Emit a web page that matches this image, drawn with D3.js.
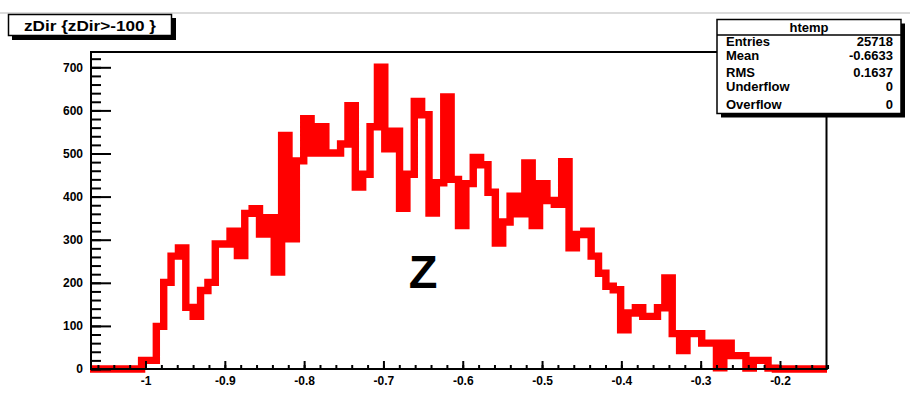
<!DOCTYPE html>
<html><head><meta charset="utf-8">
<script src="https://cdn.jsdelivr.net/npm/d3@7"></script>
<style>
body{margin:0;background:#fff;}
text{font-family:"Liberation Sans",Arial,Helvetica,sans-serif;font-weight:bold;}
</style>
</head><body>
<svg id="c" width="910" height="403"></svg>
<script>
// ---- data (100 bins of zDir) ----
const binCounts = [
  0,0,0,0,0,0,0,20,20,99,
  201,262,281,143,122,182,201,290,290,320,
  263,361,372,313,351,225,542,302,483,581,
  501,562,501,501,522,611,422,452,562,700,
  511,552,373,452,621,590,362,432,631,440,
  333,430,491,474,410,292,341,401,360,478,
  333,430,391,382,481,281,312,320,262,222,
  192,184,91,130,142,122,122,142,211,82,
  43,82,82,60,60,3,60,31,31,2,
  20,20,2,0,0,0,0,0,0,0
];
const histRange = [-1.07, -0.1407];
const yMax = 735.5;
const xMajorTicks = [-1,-0.9,-0.8,-0.7,-0.6,-0.5,-0.4,-0.3,-0.2];
const xTickLabels = ["-1","-0.9","-0.8","-0.7","-0.6","-0.5","-0.4","-0.3","-0.2"];
const yMajorTicks = [0,100,200,300,400,500,600,700];
const yTickLabels = ["0","100","200","300","400","500","600","700"];
const titleText = "zDir {zDir>-100 }";
const statsTitle = "htemp";
const statsNames = ["Entries","Mean","RMS","Underflow","Overflow"];
const statsValues = ["25718","-0.6633","0.1637","0","0"];
const axisLabel = "Z";

// ---- layout ----
const W = 910, H = 403;
const L = 91, R = 826.5, T = 52, B = 369;
const svg = d3.select("#c");
svg.append("rect").attr("width",W).attr("height",H).attr("fill","#fff");
svg.append("line").attr("x1",0).attr("x2",W).attr("y1",13).attr("y2",13)
   .attr("stroke","#cfcfcf").attr("stroke-width",1.5);

const x = d3.scaleLinear().domain(histRange).range([90, 827]);
const y = d3.scaleLinear().domain([0, yMax]).range([B, T]);

const nb = binCounts.length;
const bw = (histRange[1]-histRange[0])/nb;
const pts = binCounts.map((v,i)=>[histRange[0]+i*bw, v]);
pts.push([histRange[1], binCounts[nb-1]]);
const line = d3.line().x(d=>x(d[0])).y(d=>y(d[1])).curve(d3.curveStepAfter);
svg.append("path").attr("d", line(pts)).attr("fill","none")
   .attr("stroke","#ff0000").attr("stroke-width",7.4)
   .attr("stroke-linejoin","miter").attr("stroke-miterlimit",10)
   .attr("stroke-linecap","butt");

// Z label
svg.append("text").attr("x", x(-0.65)).attr("y", y(188)).attr("text-anchor","middle")
   .attr("font-size",47).attr("fill","#000").text(axisLabel);

// x axis
const xAxisG = svg.append("g").attr("transform",`translate(0,${B})`);
xAxisG.call(d3.axisBottom(x).tickValues(d3.range(-53,-6).map(i=>i*0.02))
   .tickSizeInner(-4).tickSizeOuter(0).tickFormat(""));
const xMajG = svg.append("g").attr("transform",`translate(0,${B})`);
xMajG.call(d3.axisBottom(x).tickValues(xMajorTicks).tickSizeInner(-8).tickSizeOuter(0)
   .tickPadding(7.5).tickFormat((d,i)=>xTickLabels[i]));
// y axis
const yMinG = svg.append("g").attr("transform",`translate(${L},0)`);
yMinG.call(d3.axisLeft(y).tickValues(d3.range(0,721,20)).tickSizeInner(-10).tickSizeOuter(0).tickFormat(""));
const yMajG = svg.append("g").attr("transform",`translate(${L},0)`);
yMajG.call(d3.axisLeft(y).tickValues(yMajorTicks).tickSizeInner(-20).tickSizeOuter(0)
   .tickPadding(8).tickFormat((d,i)=>yTickLabels[i]));
svg.selectAll(".domain").remove();
svg.selectAll(".tick line").attr("stroke","#000").attr("stroke-width",2);
svg.selectAll(".tick text").attr("font-size",12).attr("fill","#000")
   .attr("font-family",'"Liberation Sans",Arial,sans-serif').attr("font-weight","bold");

// frame
const fr = svg.append("g").attr("stroke","#000").attr("stroke-width",2);
fr.append("line").attr("x1",L).attr("x2",L).attr("y1",T).attr("y2",B+1);
fr.append("line").attr("x1",L-1).attr("x2",R+1).attr("y1",B).attr("y2",B);
fr.append("line").attr("x1",L-1).attr("x2",R+1).attr("y1",T).attr("y2",T);
fr.append("line").attr("x1",R).attr("x2",R).attr("y1",T).attr("y2",B+1);

// title box
svg.append("rect").attr("x",12).attr("y",18).attr("width",164).attr("height",22).attr("fill","#000");
svg.append("rect").attr("x",8.5).attr("y",14.5).attr("width",163).attr("height",21)
   .attr("fill","#fff").attr("stroke","#000").attr("stroke-width",1.5);
svg.append("text").attr("x",90).attr("y",30.5).attr("text-anchor","middle")
   .attr("font-size",15.5).attr("fill","#000")
   .attr("textLength",132).attr("lengthAdjust","spacingAndGlyphs").text(titleText);

// stats box
const sx = 717, sy = 19.5, sw = 184, sh = 94;
svg.append("rect").attr("x",sx+4).attr("y",sy+4).attr("width",sw).attr("height",sh).attr("fill","#000");
svg.append("rect").attr("x",sx).attr("y",sy).attr("width",sw).attr("height",sh)
   .attr("fill","#fff").attr("stroke","#000").attr("stroke-width",1.5);
svg.append("line").attr("x1",sx).attr("x2",sx+sw).attr("y1",35).attr("y2",35)
   .attr("stroke","#000").attr("stroke-width",1.5);
svg.append("text").attr("x",sx+sw/2).attr("y",31.5).attr("text-anchor","middle")
   .attr("font-size",13).attr("fill","#000").text(statsTitle);
const rowY = [46, 60, 77, 91, 109];
statsNames.forEach((n,i)=>{
  svg.append("text").attr("x",sx+9).attr("y",rowY[i]).attr("font-size",13).attr("fill","#000").text(n);
  svg.append("text").attr("x",sx+sw-8).attr("y",rowY[i]).attr("text-anchor","end")
     .attr("font-size",13).attr("fill","#000").text(statsValues[i]);
});
</script>
</body></html>
